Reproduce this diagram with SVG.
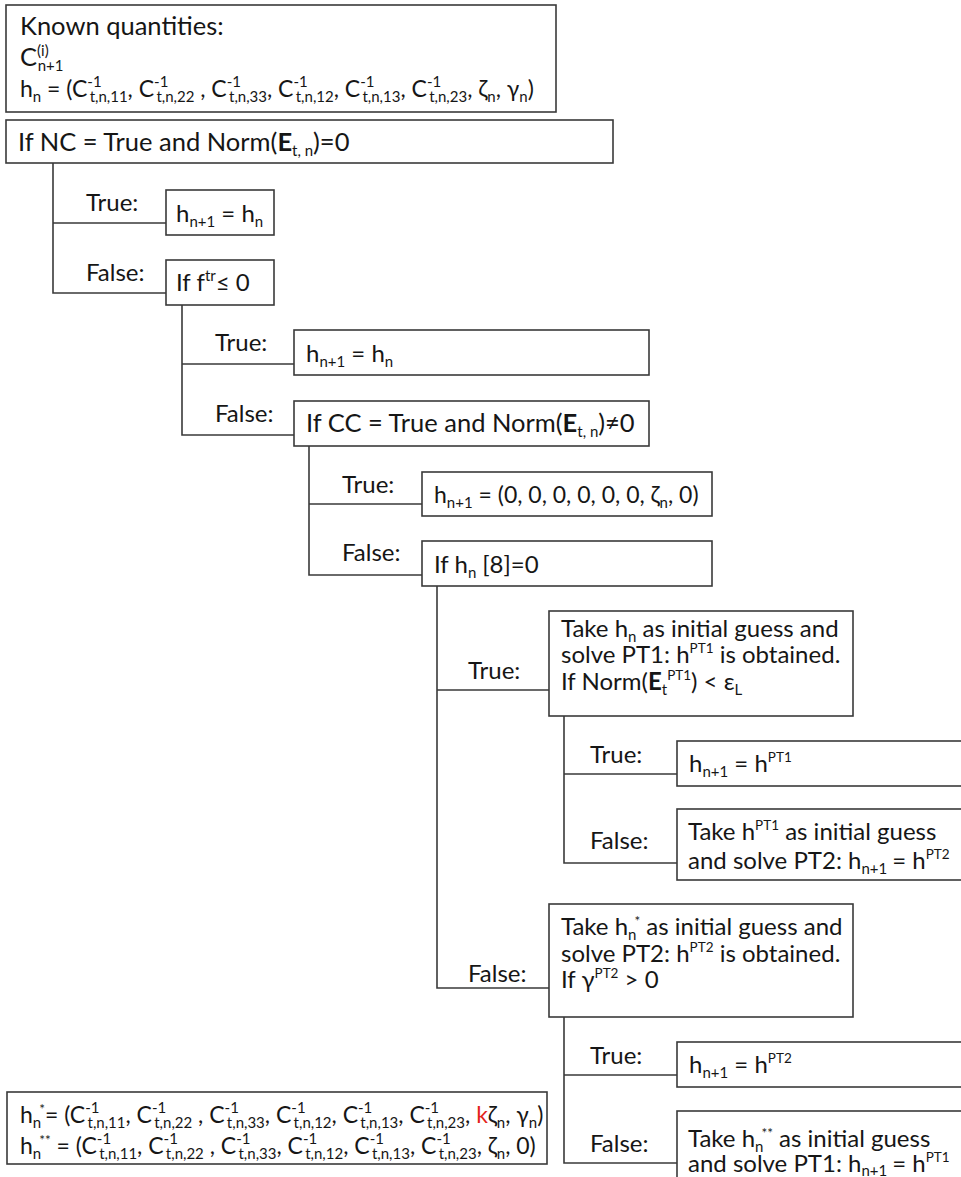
<svg xmlns="http://www.w3.org/2000/svg" width="961" height="1177" viewBox="0 0 961 1177">
<style>
.box{fill:#fff;stroke:#3a3a3a;stroke-width:1.6}
.ln{fill:none;stroke:#3a3a3a;stroke-width:1.6}
text{font-family:Lato,"Open Sans","Noto Sans",sans-serif;font-size:24px;fill:#161616}
text.big{font-size:25.5px}
text.f{font-size:23px}
.s{font-size:15px}
.p{font-size:13.5px}
.b{font-weight:bold}
.r{fill:#e3231c}
</style>
<rect width="961" height="1177" fill="#fff"/>

<!-- connectors of the decision tree -->
<g id="connectors">
<path class="ln" d="M53,163 V293 H166 M53,223 H166"/>
<path class="ln" d="M182,305 V435 H294 M182,364 H294"/>
<path class="ln" d="M309,446 V575 H422 M309,504 H422"/>
<path class="ln" d="M437,586 V988 H549 M437,690 H549"/>
<path class="ln" d="M564,716 V863 H677 M564,774 H677"/>
<path class="ln" d="M564,1017 V1163 H677 M564,1075 H677"/>
</g>

<!-- branch labels -->
<g id="labels">
<text x="86" y="211">True:</text>
<text x="86" y="281">False:</text>
<text x="215" y="351">True:</text>
<text x="215" y="422">False:</text>
<text x="342" y="493">True:</text>
<text x="342" y="561">False:</text>
<text x="468" y="679">True:</text>
<text x="468" y="982">False:</text>
<text x="590" y="763">True:</text>
<text x="590" y="849">False:</text>
<text x="590" y="1064">True:</text>
<text x="590" y="1152">False:</text>
</g>

<g id="known">
<rect class="box" x="6" y="5" width="550" height="107"/>
<text class="big" x="20" y="35">Known quantities:</text>
<text class="big" x="20" y="66">C<tspan class="s" dy="-10">(i)</tspan><tspan class="s" dx="-11" dy="15">n+1</tspan></text>
<text class="f" x="20" y="97">h<tspan class="s" dy="5">n</tspan><tspan dy="-5"> = (C</tspan><tspan class="s" dy="-10">-1</tspan><tspan class="s" dx="-12" dy="15">t,n,11</tspan><tspan dy="-5">, C</tspan><tspan class="s" dy="-10">-1</tspan><tspan class="s" dx="-12" dy="15">t,n,22</tspan><tspan dy="-5"> , C</tspan><tspan class="s" dy="-10">-1</tspan><tspan class="s" dx="-12" dy="15">t,n,33</tspan><tspan dy="-5">, C</tspan><tspan class="s" dy="-10">-1</tspan><tspan class="s" dx="-12" dy="15">t,n,12</tspan><tspan dy="-5">, C</tspan><tspan class="s" dy="-10">-1</tspan><tspan class="s" dx="-12" dy="15">t,n,13</tspan><tspan dy="-5">, C</tspan><tspan class="s" dy="-10">-1</tspan><tspan class="s" dx="-12" dy="15">t,n,23</tspan><tspan dy="-5">, ζ</tspan><tspan class="s" dy="5">n</tspan><tspan dy="-5">, γ</tspan><tspan class="s" dy="5">n</tspan><tspan dy="-5">)</tspan></text>
</g>

<g id="nc">
<rect class="box" x="6" y="120" width="607" height="43"/>
<text class="big" x="18" y="151">If NC = True and Norm(<tspan class="b">E</tspan><tspan class="s" dy="5">t, n</tspan><tspan dy="-5">)=0</tspan></text>
</g>

<g id="keep1">
<rect class="box" x="166" y="190" width="108" height="45"/>
<text x="176" y="222">h<tspan class="s" dy="5">n+1</tspan><tspan dy="-5"> = h</tspan><tspan class="s" dy="5">n</tspan></text>
</g>

<g id="ftr">
<rect class="box" x="166" y="260" width="108" height="45"/>
<text x="176" y="291">If f<tspan class="s" dy="-10">tr</tspan><tspan dy="10">≤ 0</tspan></text>
</g>

<g id="keep2">
<rect class="box" x="294" y="330" width="355" height="45"/>
<text x="306" y="362">h<tspan class="s" dy="5">n+1</tspan><tspan dy="-5"> = h</tspan><tspan class="s" dy="5">n</tspan></text>
</g>

<g id="cc">
<rect class="box" x="294" y="401" width="355" height="45"/>
<text class="big" x="306" y="432">If CC = True and Norm(<tspan class="b">E</tspan><tspan class="s" dy="5">t, n</tspan><tspan dy="-5">)≠0</tspan></text>
</g>

<g id="reset">
<rect class="box" x="422" y="472" width="290" height="44"/>
<text class="f" x="434" y="503">h<tspan class="s" dy="5">n+1</tspan><tspan dy="-5"> = (0, 0, 0, 0, 0, 0, ζ</tspan><tspan class="s" dy="5">n</tspan><tspan dy="-5">, 0)</tspan></text>
</g>

<g id="h8">
<rect class="box" x="422" y="541" width="290" height="45"/>
<text x="434" y="573">If h<tspan class="s" dy="5">n</tspan><tspan dy="-5" dx="6">[8]=0</tspan></text>
</g>

<g id="pt1">
<rect class="box" x="549" y="611" width="304" height="105"/>
<text x="561" y="637">Take h<tspan class="s" dy="5">n</tspan><tspan dy="-5" dx="6">as initial guess and</tspan></text>
<text x="561" y="663">solve PT1: h<tspan class="p" dy="-10">PT1</tspan><tspan dy="10"> is obtained.</tspan></text>
<text x="561" y="690">If Norm(<tspan class="b">E</tspan><tspan class="s" dy="5">t</tspan><tspan class="p" dy="-15">PT1</tspan><tspan dy="10">) &lt; ε</tspan><tspan class="s" dy="5">L</tspan></text>
</g>

<g id="res-pt1">
<rect class="box" x="677" y="741" width="300" height="45"/>
<text x="689" y="772">h<tspan class="s" dy="5">n+1</tspan><tspan dy="-5"> = h</tspan><tspan class="p" dy="-10">PT1</tspan></text>
</g>

<g id="pt1-pt2">
<rect class="box" x="677" y="809" width="300" height="71"/>
<text x="688" y="840">Take h<tspan class="p" dy="-10">PT1</tspan><tspan dy="10"> as initial guess</tspan></text>
<text x="688" y="869">and solve PT2: h<tspan class="s" dy="5">n+1</tspan><tspan dy="-5" dx="5">= h</tspan><tspan class="p" dy="-10">PT2</tspan></text>
</g>

<g id="pt2">
<rect class="box" x="549" y="904" width="304" height="113"/>
<text x="561" y="935">Take h<tspan class="s" dy="5">n</tspan><tspan class="p" dx="-2" dy="-14">*</tspan><tspan dy="9"> as initial guess and</tspan></text>
<text x="561" y="962">solve PT2: h<tspan class="p" dy="-10">PT2</tspan><tspan dy="10"> is obtained.</tspan></text>
<text x="561" y="988">If γ<tspan class="p" dy="-10">PT2</tspan><tspan dy="10"> &gt; 0</tspan></text>
</g>

<g id="res-pt2">
<rect class="box" x="677" y="1042" width="300" height="45"/>
<text x="689" y="1073">h<tspan class="s" dy="5">n+1</tspan><tspan dy="-5"> = h</tspan><tspan class="p" dy="-10">PT2</tspan></text>
</g>

<g id="pt2-pt1">
<rect class="box" x="677" y="1111" width="300" height="80"/>
<text x="688" y="1147">Take h<tspan class="s" dy="5">n</tspan><tspan class="p" dx="-2" dy="-14">**</tspan><tspan dy="9"> as initial guess</tspan></text>
<text x="688" y="1172">and solve PT1: h<tspan class="s" dy="4">n+1</tspan><tspan dy="-4" dx="5">= h</tspan><tspan class="p" dy="-10">PT1</tspan></text>
</g>

<g id="defs-h">
<rect class="box" x="7" y="1092" width="540" height="72"/>
<text class="f" x="20" y="1123">h<tspan class="s" dy="5">n</tspan><tspan class="p" dx="-2" dy="-14">*</tspan><tspan dy="9">= (C</tspan><tspan class="s" dy="-10">-1</tspan><tspan class="s" dx="-12" dy="15">t,n,11</tspan><tspan dy="-5">, C</tspan><tspan class="s" dy="-10">-1</tspan><tspan class="s" dx="-12" dy="15">t,n,22</tspan><tspan dy="-5"> , C</tspan><tspan class="s" dy="-10">-1</tspan><tspan class="s" dx="-12" dy="15">t,n,33</tspan><tspan dy="-5">, C</tspan><tspan class="s" dy="-10">-1</tspan><tspan class="s" dx="-12" dy="15">t,n,12</tspan><tspan dy="-5">, C</tspan><tspan class="s" dy="-10">-1</tspan><tspan class="s" dx="-12" dy="15">t,n,13</tspan><tspan dy="-5">, C</tspan><tspan class="s" dy="-10">-1</tspan><tspan class="s" dx="-12" dy="15">t,n,23</tspan><tspan dy="-5">, </tspan><tspan class="r">k</tspan><tspan>ζ</tspan><tspan class="s" dy="5">n</tspan><tspan dy="-5">, γ</tspan><tspan class="s" dy="5">n</tspan><tspan dy="-5">)</tspan></text>
<text class="f" x="20" y="1154">h<tspan class="s" dy="5">n</tspan><tspan class="p" dx="-2" dy="-14">**</tspan><tspan dy="9"> = (C</tspan><tspan class="s" dy="-10">-1</tspan><tspan class="s" dx="-12" dy="15">t,n,11</tspan><tspan dy="-5">, C</tspan><tspan class="s" dy="-10">-1</tspan><tspan class="s" dx="-12" dy="15">t,n,22</tspan><tspan dy="-5"> , C</tspan><tspan class="s" dy="-10">-1</tspan><tspan class="s" dx="-12" dy="15">t,n,33</tspan><tspan dy="-5">, C</tspan><tspan class="s" dy="-10">-1</tspan><tspan class="s" dx="-12" dy="15">t,n,12</tspan><tspan dy="-5">, C</tspan><tspan class="s" dy="-10">-1</tspan><tspan class="s" dx="-12" dy="15">t,n,13</tspan><tspan dy="-5">, C</tspan><tspan class="s" dy="-10">-1</tspan><tspan class="s" dx="-12" dy="15">t,n,23</tspan><tspan dy="-5">, ζ</tspan><tspan class="s" dy="5">n</tspan><tspan dy="-5">, 0)</tspan></text>
</g>
</svg>
